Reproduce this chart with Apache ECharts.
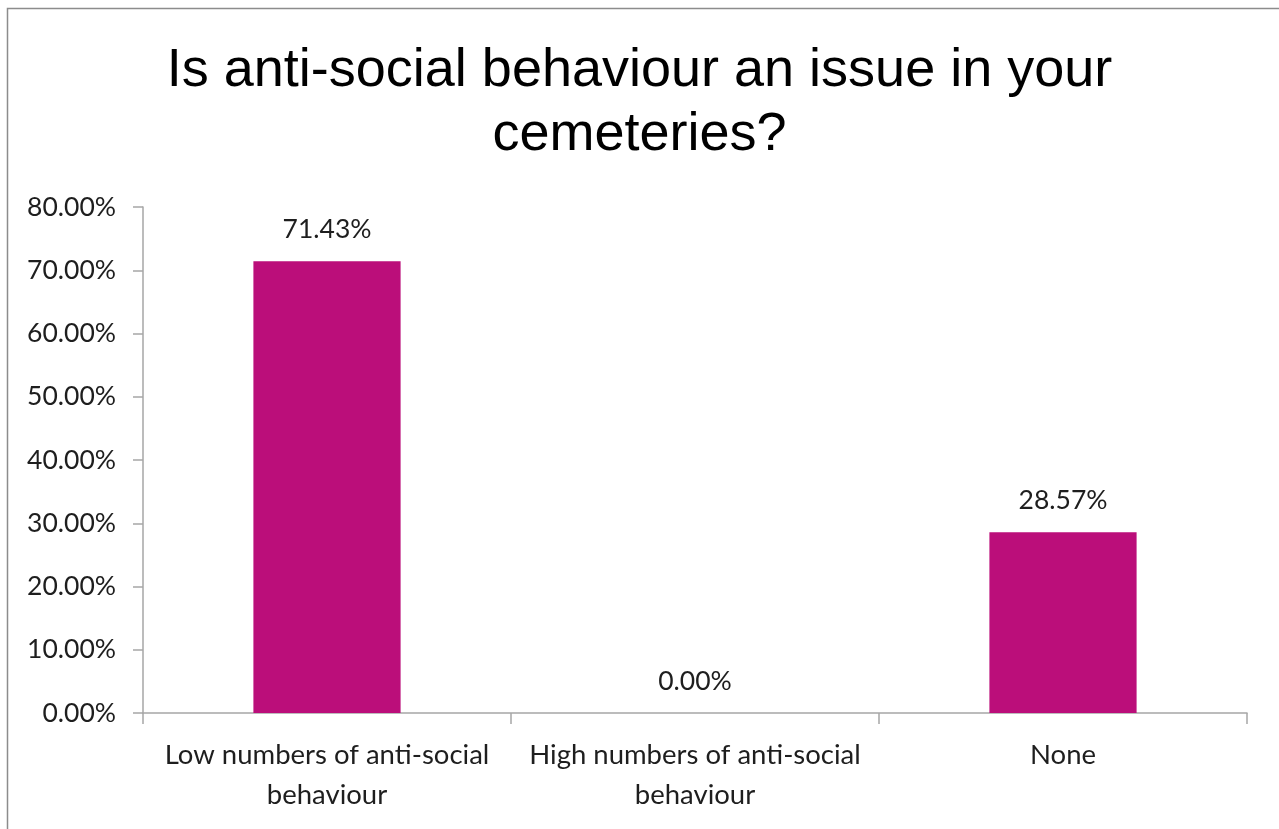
<!DOCTYPE html>
<html>
<head>
<meta charset="utf-8">
<script src="https://cdn.jsdelivr.net/npm/echarts@6/dist/echarts.min.js"></script>
<style>
  html, body { margin: 0; padding: 0; background: #fff; }
  #chart { width: 1279px; height: 829px; }
</style>
</head>
<body>
<div id="chart"></div>
<script>
const titleText = 'Is anti-social behaviour an issue in your\ncemeteries?';
const categories = [
  'Low numbers of anti-social\nbehaviour',
  'High numbers of anti-social\nbehaviour',
  'None'
];
const shares = [71.43, 0.00, 28.57];
const yTicks = { min: 0, max: 80, interval: 10 };

const labelFont = 'Lato, "Open Sans", sans-serif';
const textColor = '#1e1e1e';
const axisColor = '#a6a6a6';
const chart = echarts.init(document.getElementById('chart'), null, { renderer: 'canvas' });

chart.setOption({
  animation: false,
  backgroundColor: '#ffffff',
  graphic: [{
    type: 'rect',
    shape: { x: 7.5, y: 8.5, width: 1300, height: 900 },
    style: { fill: 'none', stroke: '#8c8c8c', lineWidth: 1.5 },
    silent: true
  }],
  title: {
    text: titleText,
    left: 'center',
    top: 34,
    textStyle: {
      fontFamily: '"Liberation Sans", Arial, sans-serif',
      fontSize: 54,
      fontWeight: 'normal',
      color: '#000',
      lineHeight: 64
    }
  },
  grid: { left: 143, right: 32, top: 207, bottom: 116, containLabel: false },
  xAxis: {
    type: 'category',
    data: categories,
    axisLine: { lineStyle: { color: axisColor, width: 1.5 } },
    axisTick: { show: true, length: 11, lineStyle: { color: axisColor, width: 1.5 } },
    axisLabel: {
      fontFamily: labelFont,
      fontSize: 27.5,
      color: textColor,
      margin: 22,
      lineHeight: 40,
      interval: 0
    }
  },
  yAxis: {
    type: 'value',
    min: yTicks.min,
    max: yTicks.max,
    interval: yTicks.interval,
    splitLine: { show: false },
    axisLine: { show: true, lineStyle: { color: axisColor, width: 1.5 } },
    axisTick: { show: true, length: 10, lineStyle: { color: axisColor, width: 1.5 } },
    axisLabel: {
      fontFamily: labelFont,
      fontSize: 26.5,
      color: textColor,
      margin: 27,
      formatter: v => v.toFixed(2) + '%'
    }
  },
  series: [{
    type: 'bar',
    data: shares,
    barWidth: '40%',
    itemStyle: { color: '#bb0e7a' },
    label: {
      show: true,
      position: 'top',
      distance: 18,
      fontFamily: labelFont,
      fontSize: 26.5,
      color: textColor,
      formatter: p => p.value.toFixed(2) + '%'
    }
  }]
});
</script>
</body>
</html>
